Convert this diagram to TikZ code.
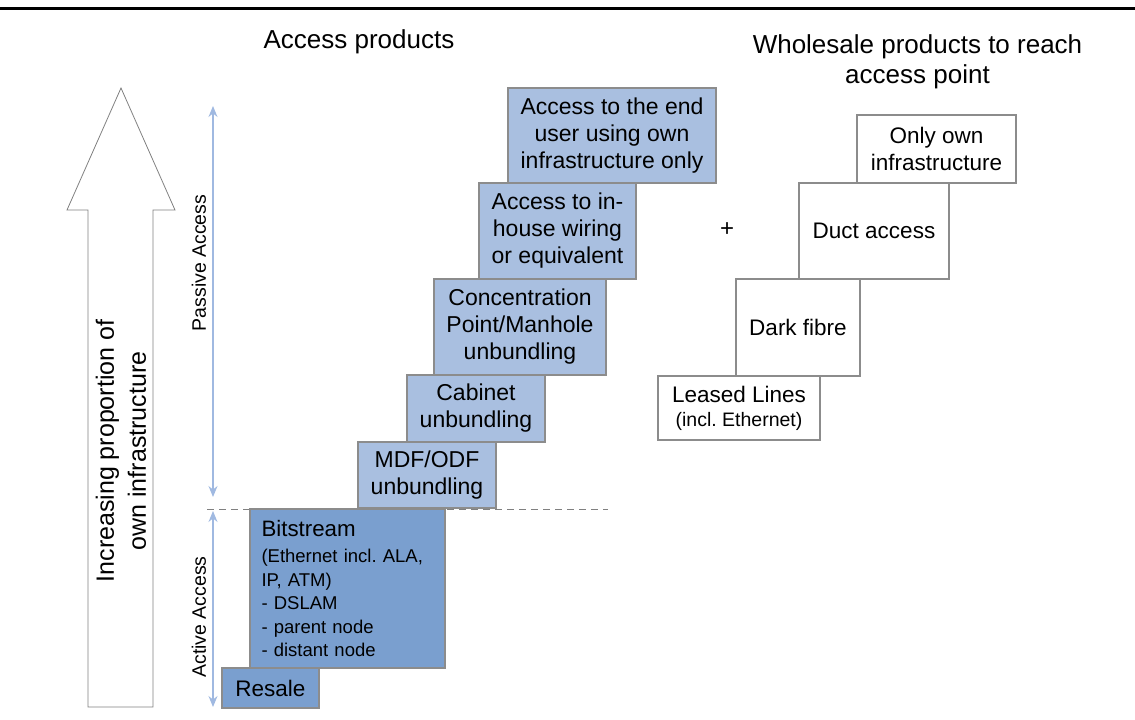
\documentclass[tikz,border=0pt]{standalone}
\usepackage{fontspec}
\setmainfont{Liberation Sans}
\usepackage{tikz}
\usetikzlibrary{arrows.meta}
\frenchspacing

\definecolor{lightacc}{RGB}{169,191,224}
\definecolor{darkacc}{RGB}{122,159,207}
\definecolor{boxline}{RGB}{140,140,140}
\definecolor{rangeblue}{RGB}{160,185,225}

\tikzset{
  accbox/.style={draw=boxline, fill=lightacc, line width=1.2pt, inner sep=0pt,
    align=center, font=\fontsize{23}{27}\selectfont},
  actbox/.style={draw=boxline, fill=darkacc, line width=1.2pt, inner sep=0pt},
  whbox/.style={draw=boxline, fill=white, line width=1.2pt, inner sep=0pt,
    align=center, font=\fontsize{22.5}{27}\selectfont},
  rangearr/.style={draw=rangeblue, line width=1.2pt,
    {Stealth[length=11pt,width=9pt]}-{Stealth[length=11pt,width=9pt]}},
  rangelbl/.style={rotate=90, font=\fontsize{19.5}{22}\selectfont}
}

\begin{document}
\begin{tikzpicture}[x=1pt,y=-1pt]
  \useasboundingbox (0,0) rectangle (1135,720);
  \draw [line width=3pt] (0,8) -- (1135,8);

  \node [font=\fontsize{26}{30}\selectfont] at (359,42) (acctitle) {Access products};
  \node [align=center, font=\fontsize{26}{30}\selectfont] at (917.5,62) (wstitle)
    {Wholesale products to reach\\access point};

  % hollow arrow
  \draw [draw=gray, line width=0.8pt] (88,707) -- (88,210) -- (67,210) -- (121,88)
    -- (175,210) -- (153,210) -- (153,707) -- cycle;
  \node [rotate=90, align=center, font=\fontsize{25}{32}\selectfont] at (121,451) (incr)
    {Increasing proportion of\\own infrastructure};

  % ranges
  \coordinate (pastop) at (213,106);
  \coordinate (pasbot) at (213,497);
  \coordinate (acttop) at (213,511);
  \coordinate (actbot) at (213,707);
  \draw [rangearr] (pastop) -- (pasbot);
  \draw [rangearr] (acttop) -- (actbot);
  \node [rangelbl] at (199,263) (paslbl) {Passive Access};
  \node [rangelbl] at (199,617) (actlbl) {Active Access};

  % access products
  \node [accbox, minimum width=208, minimum height=95] at (612,135.5) (enduser)
    {Access to the end\\user using own\\infrastructure only};
  \node [accbox, minimum width=157, minimum height=96] at (557.5,231) (inhouse)
    {Access to in-\\house wiring\\or equivalent};
  \node [accbox, minimum width=172, minimum height=96] at (520,327) (conc)
    {Concentration\\Point/Manhole\\unbundling};
  \node [accbox, minimum width=138, minimum height=67] at (476,408.5) (cab)
    {Cabinet\\unbundling};
  \node [accbox, minimum width=138, minimum height=66] at (427,475) (mdf)
    {MDF/ODF\\unbundling};

  \draw [draw=gray, line width=1pt, dash pattern=on 7pt off 5pt]
    (207,509) -- (608,509);

  \node [actbox, minimum width=195, minimum height=159, text width=172pt,
    inner xsep=11.5pt, align=left, font=\fontsize{18.5}{23.5}\selectfont]
    at (347.5,588.5) (bits)
    {{\fontsize{22.3}{26}\selectfont Bitstream}\\[3pt]
     (Ethernet incl. ALA,\\IP, ATM)\\- DSLAM\\- parent node\\- distant node};
  \node [actbox, minimum width=97, minimum height=40,
    font=\fontsize{22.5}{26}\selectfont] at (270.5,688) (resale) {Resale};

  % wholesale products
  \node [font=\fontsize{24}{26}\selectfont] at (727,230) (plus) {+};
  \node [whbox, minimum width=159, minimum height=68] at (936.5,149) (ownonly)
    {Only own\\infrastructure};
  \node [whbox, minimum width=150, minimum height=96] at (874,231) (duct)
    {Duct access};
  \node [whbox, minimum width=124, minimum height=97] at (798,327.5) (dark)
    {Dark fibre};
  \node [whbox, minimum width=162, minimum height=64] at (739,408) (leased)
    {Leased Lines\\[-3pt]{\fontsize{19.5}{22}\selectfont (incl. Ethernet)}};
\end{tikzpicture}
\end{document}
